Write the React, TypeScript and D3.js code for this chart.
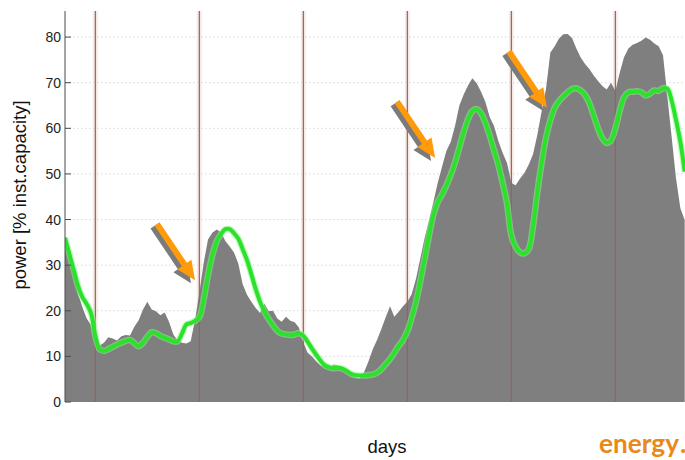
import React from "react";
import * as d3 from "d3";

// Hourly samples; first sample sits 7 h before the first day boundary.
const START_HOUR = -7;

// Measured wind power [% of installed capacity], one value per hour
const measured: number[] = [
  36.3, 34.0, 28.5, 23.8, 20.8, 18.3, 16.9, 13.2, 12.4, 13.0,
  14.2, 13.9, 13.5, 14.4, 14.7, 14.6, 16.5, 17.9, 20.3, 22.0,
  20.3, 19.9, 19.0, 19.6, 17.6, 14.8, 13.5, 13.0, 12.8, 13.3,
  18.0, 23.9, 30.5, 35.6, 37.1, 37.8, 37.2, 35.3, 34.1, 32.8,
  30.3, 25.8, 23.5, 22.0, 20.6, 19.5, 21.6, 19.9, 20.0, 18.3,
  17.6, 18.7, 17.8, 17.5, 16.3, 13.0, 10.8, 10.0, 8.9, 8.0,
  7.7, 7.5, 8.2, 8.0, 7.0, 6.5, 5.9, 5.4, 5.2, 6.5,
  8.8, 11.5, 13.6, 16.0, 18.6, 21.0, 18.7, 19.8, 21.0, 22.0,
  23.6, 27.0, 31.5, 36.0, 39.8, 43.8, 48.0, 51.6, 55.0, 57.0,
  60.5, 65.0, 67.4, 69.4, 71.0, 69.9, 68.0, 65.8, 62.5, 60.5,
  57.2, 54.6, 52.4, 48.0, 47.5, 49.0, 50.2, 52.0, 54.3, 58.6,
  63.8, 68.7, 76.6, 78.0, 79.7, 80.6, 80.7, 79.8, 77.5, 75.5,
  74.1, 73.0, 71.6, 70.4, 69.3, 68.5, 70.0, 68.2, 72.2, 75.6,
  77.5, 78.3, 78.7, 79.2, 79.9, 79.4, 78.6, 78.0, 76.0, 67.0,
  58.0, 49.0, 42.5, 39.9,
];

// Forecast [% of installed capacity], one value per hour
const forecast: number[] = [
  36.0, 32.5, 29.0, 25.5, 23.0, 21.5, 19.5, 14.5, 11.6, 11.2,
  11.6, 12.1, 12.6, 13.0, 13.4, 13.6, 12.9, 12.2, 13.0, 14.3,
  15.3, 15.1, 14.5, 14.1, 13.7, 13.3, 13.3, 15.0, 17.0, 17.3,
  17.8, 18.6, 22.5, 27.8, 32.2, 35.2, 36.8, 37.9, 37.9, 37.0,
  35.8, 33.5, 31.1, 28.0, 24.8, 22.0, 19.8, 18.2, 16.8, 15.6,
  15.0, 14.8, 14.7, 14.8, 15.1, 14.5, 13.2, 11.7, 10.3, 9.0,
  8.0, 7.6, 7.4, 7.5, 7.3, 6.8, 6.2, 5.9, 5.8, 5.8,
  5.9, 6.0, 6.4, 7.2, 8.3, 9.4, 10.8, 12.3, 13.6, 15.5,
  18.5, 22.0, 26.5, 31.5, 36.5, 41.0, 43.8, 45.5, 47.5, 49.8,
  52.5, 55.8, 59.2, 62.0, 63.8, 64.2, 63.3, 61.2, 58.4, 55.2,
  52.0, 48.0, 43.5, 36.5, 34.0, 32.8, 32.6, 33.5, 38.5, 46.0,
  52.5, 58.0, 61.8, 64.5, 66.0, 67.0, 67.9, 68.6, 68.8, 68.3,
  67.3, 65.5, 62.8, 60.0, 57.8, 56.8, 57.4, 60.0, 63.8, 66.8,
  67.9, 68.0, 68.1, 67.9, 67.2, 67.6, 68.3, 68.2, 68.8, 68.7,
  66.0, 61.8, 57.0, 50.5,
];

const yTicks: number[] = [0, 10, 20, 30, 40, 50, 60, 70, 80];
const gridValues: number[] = [10, 20, 30, 40, 50, 60, 70, 80];
const dayBoundaries: number[] = [0, 24, 48, 72, 96, 120];

// Arrow tips in chart coordinates (hour, % capacity)
const arrowTipHours: number[] = [23.0, 78.4, 104.2];
const arrowTipValues: number[] = [26.7, 53.5, 64.5];

const W = 685;
const H = 460;
const left = 65;
const right = 685;
const top = 11;
const bottom = 402;

const FONT = "'Liberation Sans', Arial, Helvetica, sans-serif";

export default function App() {
  const x = d3.scaleLinear().domain([-7, 136]).range([left, 684.7]);
  const y = d3.scaleLinear().domain([0, 85.5]).range([bottom, 12]);

  const area = d3
    .area<number>()
    .x((_, i) => x(START_HOUR + i))
    .y0(y(0))
    .y1((d) => y(d))
    .curve(d3.curveLinear);

  const line = d3
    .line<number>()
    .x((_, i) => x(START_HOUR + i))
    .y((d) => y(d))
    .curve(d3.curveCatmullRom.alpha(0.5));

  // arrow outline, tip at origin, pointing along +x
  const arrowShape = "M0,0 L-19,-8.5 L-19,-3 L-68,-3 L-68,3 L-19,3 L-19,8.5 Z";
  const arrowAngle = 56;

  return (
    <svg
      width={W}
      height={H}
      style={{ position: "absolute", left: 0, top: 0, background: "#fff" }}
    >
      <defs>
        <clipPath id="plot-clip">
          <rect x={left} y={top} width={right - left} height={bottom - top} />
        </clipPath>
      </defs>

      {/* horizontal dotted grid */}
      {gridValues.map((v) => (
        <line
          key={"g" + v}
          x1={left}
          x2={right}
          y1={y(v)}
          y2={y(v)}
          stroke="#d6d6d6"
          strokeWidth={1}
          strokeDasharray="1.5,2.5"
        />
      ))}

      <g clipPath="url(#plot-clip)">
        {/* soft halo of the day boundaries on the white background */}
        {dayBoundaries.map((h) => (
          <line
            key={"h" + h}
            x1={x(h)}
            x2={x(h)}
            y1={top}
            y2={bottom}
            stroke="#f0dcd4"
            strokeOpacity={0.6}
            strokeWidth={5}
          />
        ))}

        <path d={area(measured) || ""} fill="#7f7f7f" />

        {/* day boundaries */}
        {dayBoundaries.map((h) => (
          <line
            key={"d" + h}
            x1={x(h)}
            x2={x(h)}
            y1={top}
            y2={bottom}
            stroke="#9a625c"
            strokeWidth={1.2}
          />
        ))}

        {/* forecast line */}
        <path
          d={line(forecast) || ""}
          fill="none"
          stroke="#8ff08f"
          strokeOpacity={0.55}
          strokeWidth={6.5}
          strokeLinejoin="round"
        />
        <path
          d={line(forecast) || ""}
          fill="none"
          stroke="#2be22b"
          strokeWidth={4}
          strokeLinejoin="round"
        />
      </g>

      {/* y axis */}
      <line x1={left} x2={left} y1={top} y2={bottom} stroke="#4a4a4a" strokeWidth={1} />
      {yTicks.map((v) => (
        <g key={"t" + v}>
          <line x1={left} x2={left + 6} y1={y(v)} y2={y(v)} stroke="#4a4a4a" strokeWidth={1} />
          <text
            x={left - 4}
            y={y(v)}
            dy="0.36em"
            textAnchor="end"
            fontFamily={FONT}
            fontSize={14}
            fill="#222"
          >
            {v}
          </text>
        </g>
      ))}

      {/* annotation arrows */}
      {arrowTipHours.map((h, i) => {
        const tx = x(h);
        const ty = y(arrowTipValues[i]);
        return (
          <g key={"a" + i}>
            <path
              d={arrowShape}
              fill="#7b7b7b"
              transform={`translate(${tx - 4},${ty + 3}) rotate(${arrowAngle})`}
            />
            <path
              d={arrowShape}
              fill="#ff9a0a"
              transform={`translate(${tx},${ty}) rotate(${arrowAngle})`}
            />
          </g>
        );
      })}

      {/* axis titles */}
      <text
        transform="translate(26,195) rotate(-90)"
        textAnchor="middle"
        fontFamily={FONT}
        fontSize={18.5}
        fill="#111"
      >
        power [% inst.capacity]
      </text>
      <text
        x={387}
        y={453}
        textAnchor="middle"
        fontFamily={FONT}
        fontSize={18.5}
        fill="#111"
      >
        days
      </text>

      {/* logo */}
      <text
        x={599}
        y={453}
        fontFamily="Lato, 'Open Sans', sans-serif"
        fontWeight={700}
        fontSize={27}
        fill="#e8891a"
        textLength={80}
        lengthAdjust="spacingAndGlyphs"
      >
        energy
      </text>
      <text
        x={680}
        y={453}
        fontFamily="Lato, 'Open Sans', sans-serif"
        fontWeight={700}
        fontSize={27}
        fill="#e8891a"
      >
        .
      </text>
    </svg>
  );
}
